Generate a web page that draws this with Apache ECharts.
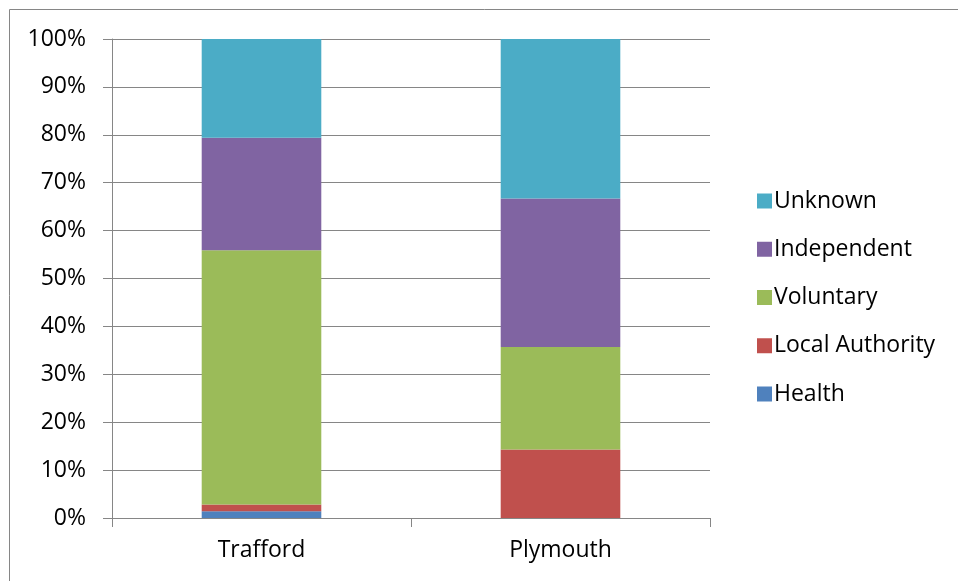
<!DOCTYPE html>
<html><head><meta charset="utf-8">
<script src="https://cdn.jsdelivr.net/npm/echarts@6/dist/echarts.min.js"></script>
<style>html,body{margin:0;padding:0;background:#fff}#c{width:958px;height:581px}</style>
</head><body><div id="c"></div>
<script>
const categories = ['Trafford', 'Plymouth'];
const health = [1.4, 0];
const localAuthority = [1.4, 14.3];
const voluntary = [53.1, 21.4];
const independent = [23.5, 31.0];
const unknown = [20.6, 33.3];
const yTicks = [0, 10, 20, 30, 40, 50, 60, 70, 80, 90, 100];

const font = '"Open Sans", sans-serif';
const gray = '#868686';
const chart = echarts.init(document.getElementById('c'));
const mk = (name, data, color) => ({
  name, type: 'bar', stack: 'total', data, barWidth: '40%',
  itemStyle: { color }
});
chart.setOption({
  animation: false,
  graphic: [{ type: 'rect', shape: { x: 9.5, y: 9.5, width: 1000, height: 1000 },
    style: { fill: 'none', stroke: gray, lineWidth: 1 }, silent: true }],
  grid: { left: 112, right: 248, top: 39, bottom: 63 },
  legend: {
    orient: 'vertical', left: 752, top: 184, itemGap: 24.25,
    itemWidth: 15, itemHeight: 15, icon: 'rect',
    data: ['Unknown', 'Independent', 'Voluntary', 'Local Authority', 'Health'],
    textStyle: { fontFamily: font, fontSize: 23, lineHeight: 24, color: '#000', padding: [0, 0, 0, -3] }
  },
  xAxis: {
    type: 'category', data: categories,
    axisLine: { lineStyle: { color: gray, width: 1 } },
    axisTick: { show: true, length: 9, lineStyle: { color: gray } },
    axisLabel: { fontFamily: font, fontSize: 23, color: '#000', margin: 21 }
  },
  yAxis: {
    type: 'value', min: yTicks[0], max: yTicks[yTicks.length - 1], interval: 10,
    axisLine: { show: true, lineStyle: { color: gray, width: 1 } },
    axisTick: { show: true, length: 9, lineStyle: { color: gray } },
    splitLine: { lineStyle: { color: gray, width: 1 } },
    axisLabel: { fontFamily: font, fontSize: 23, color: '#000', margin: 26, formatter: '{value}%' }
  },
  series: [
    mk('Health', health, '#4F81BD'),
    mk('Local Authority', localAuthority, '#C0504D'),
    mk('Voluntary', voluntary, '#9BBB59'),
    mk('Independent', independent, '#8064A2'),
    mk('Unknown', unknown, '#4BACC6')
  ]
});
</script></body></html>
